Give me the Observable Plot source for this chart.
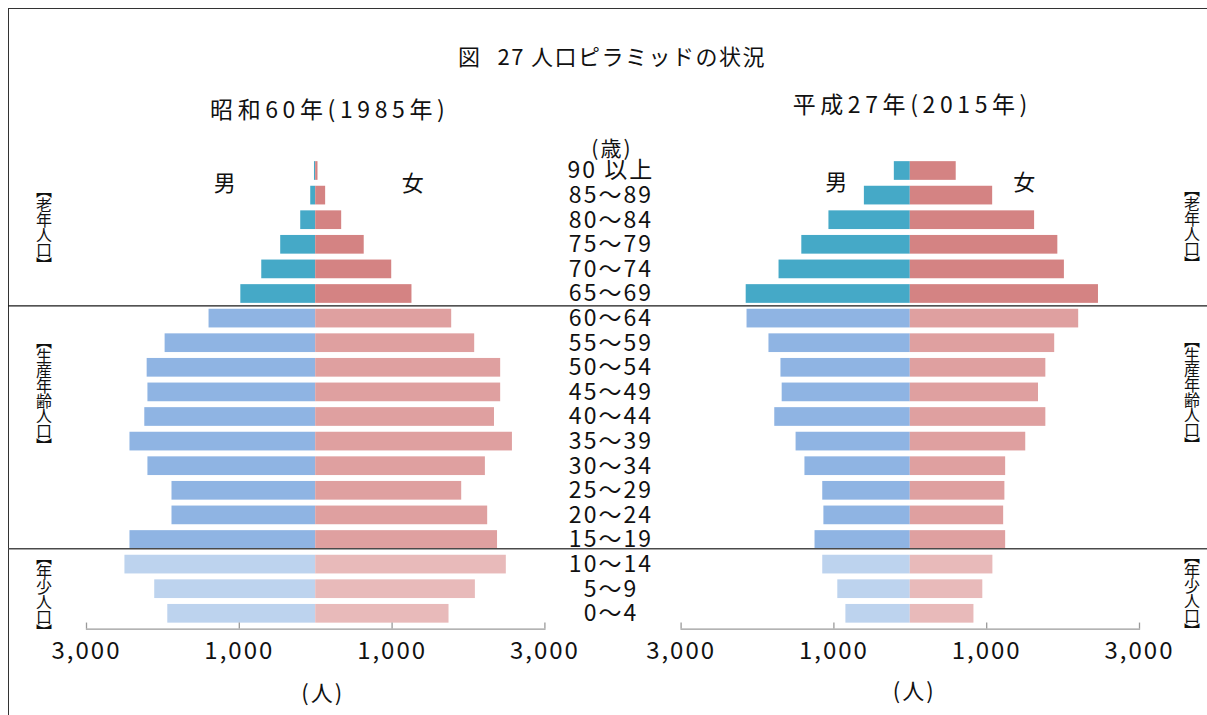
<!DOCTYPE html>
<html><head><meta charset="utf-8">
<script src="https://cdn.jsdelivr.net/npm/d3@7"></script>
<script src="https://cdn.jsdelivr.net/npm/@observablehq/plot@0.6"></script>
<style>
body{margin:0;background:#fff;overflow:hidden;}
#wrap{position:relative;width:1207px;height:715px;overflow:hidden;font-family:"Noto Sans CJK JP",sans-serif;}
#border{position:absolute;left:8px;top:8px;width:1400px;height:900px;border:1.5px solid #333;box-sizing:border-box}
#title{position:absolute;left:0;width:1224px;top:43px;line-height:24px;text-align:center;font-size:22px;letter-spacing:1.5px;color:#111;white-space:nowrap;}
.pane{position:absolute;top:0;}
.pane svg{overflow:visible;}
#overlay{position:absolute;left:0;top:0;pointer-events:none;}
.vlabel{position:absolute;writing-mode:vertical-rl;font-size:16px;line-height:16px;letter-spacing:-1px;color:#111;transform:translate(-50%,-50%);white-space:nowrap;}
</style></head>
<body><div id="wrap"><div id="border"></div>
<div id="paneL" class="pane" style="left:0px"></div>
<div id="paneR" class="pane" style="left:600px"></div>
<svg id="overlay" width="1207" height="715"></svg>
<div id="title">図<span style="display:inline-block;width:16px"></span>27<span style="display:inline-block;width:6px"></span>人口ピラミッドの状況</div></div>
<script>
const years = ["1985", "2015"];
const yearLabels = ["昭和60年(1985年)", "平成27年(2015年)"];
const ages = ["90 以上","85～89","80～84","75～79","70～74","65～69","60～64","55～59","50～54","45～49","40～44","35～39","30～34","25～29","20～24","15～19","10～14","5～9","0～4"];
const ageGroups = ["old","old","old","old","old","old","work","work","work","work","work","work","work","work","work","work","young","young","young"];
const male1985   = [16,65,196,458,706,980,1396,1971,2206,2196,2237,2431,2196,1881,1881,2431,2497,2107,1936];
const female1985 = [30,130,340,635,995,1260,1780,2081,2421,2421,2340,2575,2221,1911,2251,2380,2495,2090,1745];
const male2015   = [209,601,1065,1420,1718,2148,2137,1850,1693,1677,1774,1495,1379,1146,1131,1247,1146,949,843];
const female2015 = [601,1078,1627,1931,2017,2463,2204,1890,1774,1678,1774,1511,1248,1238,1222,1248,1081,949,833];
const tickValues = [-3000, -1000, 1000, 3000];
const colorKeys = ["old-m","old-f","work-m","work-f","young-m","young-f"];
const colorRange = ["#45a9c7","#d48383","#8fb4e3","#dfa0a0","#bdd3ee","#e8baba"];
const groupLabels = ["【老年人口】", "【生産年齢人口】", "【年少人口】"];
const groupAnchorAges = ["80～84", "45～49", "5～9"];
const groupNudge = [7, 1.5, 5];
const sexLabels = ["男", "女"];
const unitLabel = "(人)";
const ageUnitLabel = "(歳)";

const font = '"Noto Sans CJK JP", sans-serif';

function pyramid(male, female, cfg) {
  const rows = [];
  ages.forEach((a, i) => {
    rows.push({age: a, value: -male[i], key: ageGroups[i] + "-m"});
    rows.push({age: a, value: female[i], key: ageGroups[i] + "-f"});
  });
  const marks = [
    Plot.barX(rows, {y: "age", x1: d => 0, x2: "value", fill: "key"}),
    Plot.frame({anchor: "bottom", stroke: "#9a9a9a", strokeWidth: 1.3}),
    Plot.axisX(tickValues, {anchor: "bottom", tickSize: -6, tickPadding: 19, stroke: "#9a9a9a", strokeWidth: 1.3, fill: "#111", fontSize: 24, tickFormat: d => d3.format(",")(Math.abs(d)), label: null}),
    Plot.text([cfg.title], {text: d => d, frameAnchor: "top", textAnchor: "middle", lineAnchor: "middle", dx: cfg.titleDx, dy: cfg.titleDy, fontSize: 23, fill: "#111"}),
    Plot.text([sexLabels[0]], {text: d => d, frameAnchor: "top", textAnchor: "middle", lineAnchor: "middle", dx: cfg.maleDx, dy: cfg.sexDy, fontSize: 22, fill: "#111"}),
    Plot.text([sexLabels[1]], {text: d => d, frameAnchor: "top", textAnchor: "middle", lineAnchor: "middle", dx: cfg.femaleDx, dy: cfg.sexDy, fontSize: 22, fill: "#111"}),
    Plot.text([unitLabel], {text: d => d, frameAnchor: "bottom", textAnchor: "middle", lineAnchor: "middle", dx: cfg.unitDx, dy: cfg.unitDy, fontSize: 22, fill: "#111"})
  ];
  if (cfg.ageColumn) {
    marks.push(Plot.text(ages, {y: d => d, text: d => d, frameAnchor: "right", textAnchor: "middle", lineAnchor: "middle", dx: 66, fontSize: 23, fill: "#111"}));
    marks.push(Plot.text([ageUnitLabel], {text: d => d, frameAnchor: "top-right", textAnchor: "middle", lineAnchor: "middle", dx: 67, dy: -6, fontSize: 21, fill: "#111"}));
  }
  const p = Plot.plot({
    width: cfg.width, height: 715,
    marginLeft: cfg.marginLeft, marginRight: cfg.marginRight, marginTop: 155.25, marginBottom: 86.45,
    style: {fontFamily: font, background: "transparent", overflow: "visible", letterSpacing: "2px", color: "#111"},
    x: {domain: [-3000, 3000], axis: null},
    y: {domain: ages, padding: 0.24, round: false, axis: null},
    color: {domain: colorKeys, range: colorRange},
    marks
  });
  d3.select(p).selectAll("text").filter(function () { return this.textContent === cfg.title; })
    .style("letter-spacing", "4.6px");
  return p;
}

const left = pyramid(male1985, female1985, {
  width: 620, marginLeft: 86, marginRight: 75.6, title: yearLabels[0], titleDx: 14, titleDy: -44.8,
  maleDx: -90, femaleDx: 98, sexDy: 28.5, unitDx: 7, unitDy: 64.8, ageColumn: true
});
const right = pyramid(male2015, female2015, {
  width: 607, marginLeft: 80.6, marginRight: 68, title: yearLabels[1], titleDx: 2, titleDy: -49.8,
  maleDx: -73, femaleDx: 115, sexDy: 27.5, unitDx: 4, unitDy: 62.8, ageColumn: false
});
document.getElementById("paneL").appendChild(left);
document.getElementById("paneR").appendChild(right);

// separator lines and vertical group labels, positioned with the plots' scales
const ys = left.scale("y");
const xl = left.scale("x");
const xr = right.scale("x");
const gap = ys.step - ys.bandwidth;
const yTop = ys.apply("60～64") - gap / 2;
const yBot = ys.apply("15～19") + ys.bandwidth;
const ov = d3.select("#overlay");
ov.append("line").attr("x1", 8).attr("x2", 1207).attr("y1", yTop).attr("y2", yTop).attr("stroke", "#1a1a1a").attr("stroke-width", 1.3);
ov.append("line").attr("x1", 8).attr("x2", 1207).attr("y1", yBot).attr("y2", yBot).attr("stroke", "#4a4a4a").attr("stroke-width", 1.5);

const wrap = d3.select("#wrap");
const leftEdge = xl.apply(-3000), rightEdge = 600 + xr.apply(3000);
groupLabels.forEach((t, i) => {
  const cy = ys.apply(groupAnchorAges[i]) + ys.bandwidth / 2 + groupNudge[i];
  wrap.append("div").attr("class", "vlabel").style("left", (leftEdge - 42) + "px").style("top", cy + "px").text(t);
  wrap.append("div").attr("class", "vlabel").style("left", (rightEdge + 53) + "px").style("top", (cy - 1) + "px").text(t);
});
</script>
</body></html>
